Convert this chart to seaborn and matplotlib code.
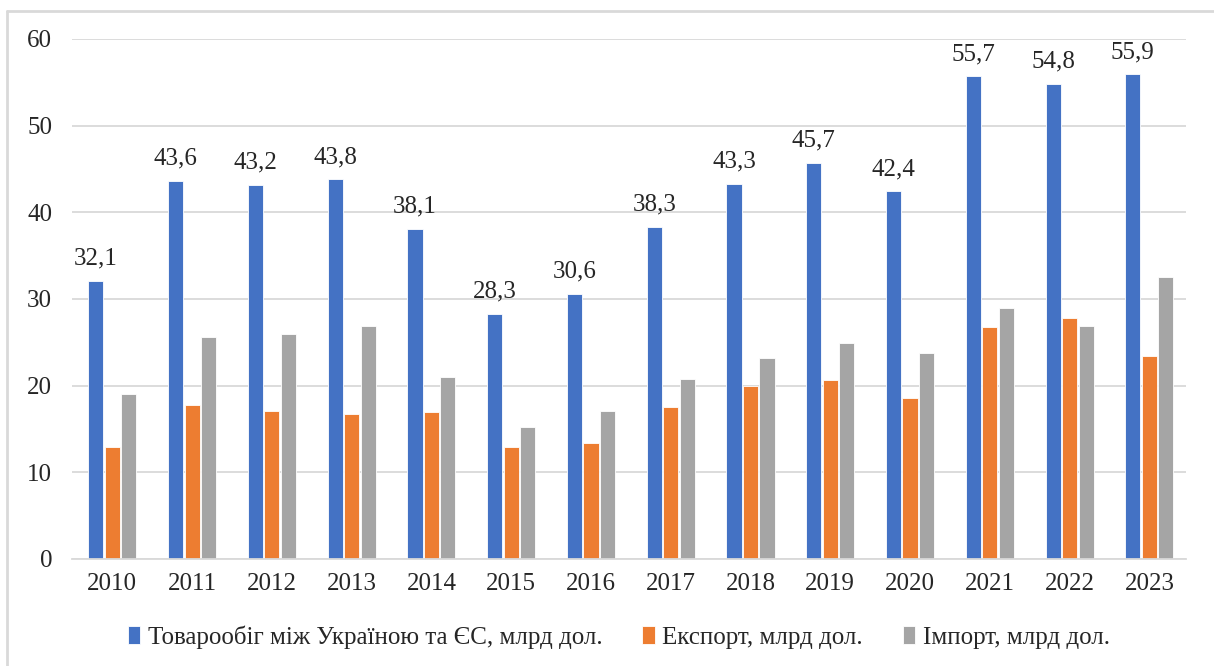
import pandas as pd
import numpy as np
import seaborn as sns
import matplotlib.pyplot as plt
from matplotlib.lines import Line2D

years = [2010, 2011, 2012, 2013, 2014, 2015, 2016, 2017, 2018, 2019, 2020, 2021, 2022, 2023]
turnover = [32.1, 43.6, 43.2, 43.8, 38.1, 28.3, 30.6, 38.3, 43.3, 45.7, 42.4, 55.7, 54.8, 55.9]
export = [12.9, 17.8, 17.0, 16.7, 16.9, 12.9, 13.4, 17.5, 20.0, 20.6, 18.6, 26.8, 27.8, 23.4]
imports = [19.0, 25.6, 26.0, 26.9, 21.0, 15.2, 17.0, 20.8, 23.2, 24.9, 23.7, 28.9, 26.9, 32.5]

series_names = ["Товарообіг між Україною та ЄС, млрд дол.",
                "Експорт, млрд дол.",
                "Імпорт, млрд дол."]
colors = ["#4472C4", "#ED7D31", "#A5A5A5"]

df = pd.DataFrame({"year": [str(y) for y in years] * 3,
                   "value": turnover + export + imports,
                   "series": np.repeat(series_names, len(years))})

sns.set_style("white")
plt.rcParams["font.family"] = ["Liberation Serif", "DejaVu Serif"]

fig = plt.figure(figsize=(12.14, 6.66), dpi=100)
ax = fig.add_axes([0.059, 0.161, 0.918, 0.7805])

sns.barplot(data=df, x="year", y="value", hue="series", palette=colors,
            saturation=1, width=0.62, gap=0.08, edgecolor="white",
            linewidth=0.6, ax=ax)

# labels over the turnover bars
for x, v in enumerate(turnover):
    ax.annotate(f"{v:.1f}".replace(".", ","), (x - 0.207, v), xytext=(0, 8),
                textcoords="offset points", ha="center", va="bottom", fontsize=18)

ax.set_ylim(0, 60)
ax.set_xlim(-0.51, 13.46)
ax.set_yticks(range(0, 61, 10))
ax.yaxis.grid(True, color="#d9d9d9", linewidth=1.3)
ax.set_axisbelow(True)
for s in ["left", "right", "top"]:
    ax.spines[s].set_visible(False)
ax.spines["bottom"].set_color("#d9d9d9")
ax.spines["bottom"].set_linewidth(1.3)
ax.tick_params(axis="both", length=0, labelsize=18)
ax.tick_params(axis="y", pad=14)
ax.tick_params(axis="x", pad=10)
ax.set_xlabel("")
ax.set_ylabel("")

handles, labels = ax.get_legend_handles_labels()
ax.legend(handles, labels, loc="upper center", bbox_to_anchor=(0.491, -0.085),
          ncol=3, frameon=False, fontsize=18, handlelength=0.5, handleheight=0.75,
          handletextpad=0.3, columnspacing=1.6)

# light frame on the left and top
fig.add_artist(Line2D([7 / 1214, 7 / 1214], [0, 1 - 11 / 666], color="#d9d9d9", lw=2))
fig.add_artist(Line2D([7 / 1214, 1], [1 - 11 / 666, 1 - 11 / 666], color="#d9d9d9", lw=2))

fig.savefig("out.png", dpi=100)
